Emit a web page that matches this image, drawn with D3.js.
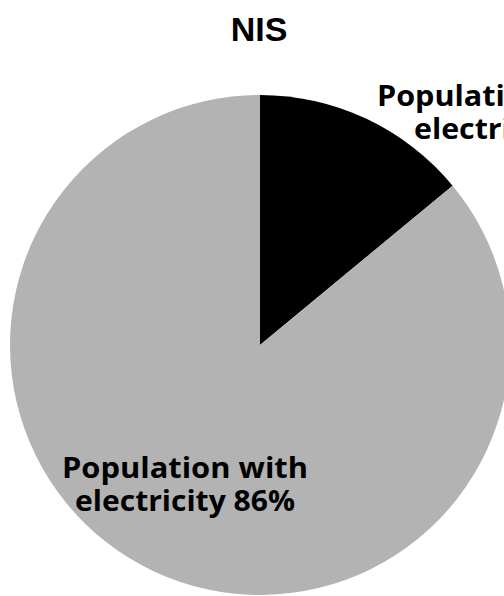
<!DOCTYPE html>
<html>
<head>
<meta charset="utf-8">
<script src="https://cdn.jsdelivr.net/npm/d3@7"></script>
<style>
  html, body { margin: 0; padding: 0; background: #fff; overflow: hidden; }
  svg { display: block; }
  text { font-variant-ligatures: none; }
</style>
</head>
<body>
<svg id="chart" width="504" height="596"></svg>
<script>
// Share of population with / without electricity
const categories = ["Population without electricity", "Population with electricity"];
const shares = [14, 86];
const sliceColors = ["#000000", "#b3b3b3"];
const labelLines = [
  ["Population without", "electricity 14%"],
  ["Population with", "electricity 86%"]
];
const chartTitle = "NIS";

const width = 504, height = 596;
const cx = 260, cy = 345, radius = 250;

const svg = d3.select("#chart");

// Title
svg.append("text")
  .attr("x", 259)
  .attr("y", 41)
  .attr("text-anchor", "middle")
  .attr("font-family", "'Liberation Sans', Arial, sans-serif")
  .attr("font-weight", "bold")
  .attr("font-size", 34)
  .text(chartTitle);

const data = categories.map((c, i) => ({ name: c, value: shares[i], color: sliceColors[i], lines: labelLines[i] }));

const pie = d3.pie().sort(null).value(d => d.value).startAngle(0).endAngle(2 * Math.PI);
const arc = d3.arc().innerRadius(0).outerRadius(radius);

const g = svg.append("g").attr("transform", `translate(${cx},${cy})`);

g.selectAll("path.slice")
  .data(pie(data))
  .join("path")
  .attr("class", "slice")
  .attr("d", arc)
  .attr("fill", d => d.data.color);

// Data labels: the small slice sits outside the pie, the large one inside
const labelAnchors = [
  { x: 525, y: 106, widths: [296, 222] },
  { x: 185, y: 478, widths: [246, 220] }
];
const lineGap = 33;

data.forEach((d, i) => {
  const a = labelAnchors[i];
  const t = svg.append("text")
    .attr("text-anchor", "middle")
    .attr("font-family", "'Open Sans', Lato, sans-serif")
    .attr("font-weight", "bold")
    .attr("font-size", 28)
    .attr("fill", "#000");
  d.lines.forEach((line, j) => {
    t.append("tspan")
      .attr("x", a.x)
      .attr("y", a.y + j * lineGap)
      .attr("textLength", a.widths[j])
      .attr("lengthAdjust", "spacingAndGlyphs")
      .text(line);
  });
});
</script>
</body>
</html>
